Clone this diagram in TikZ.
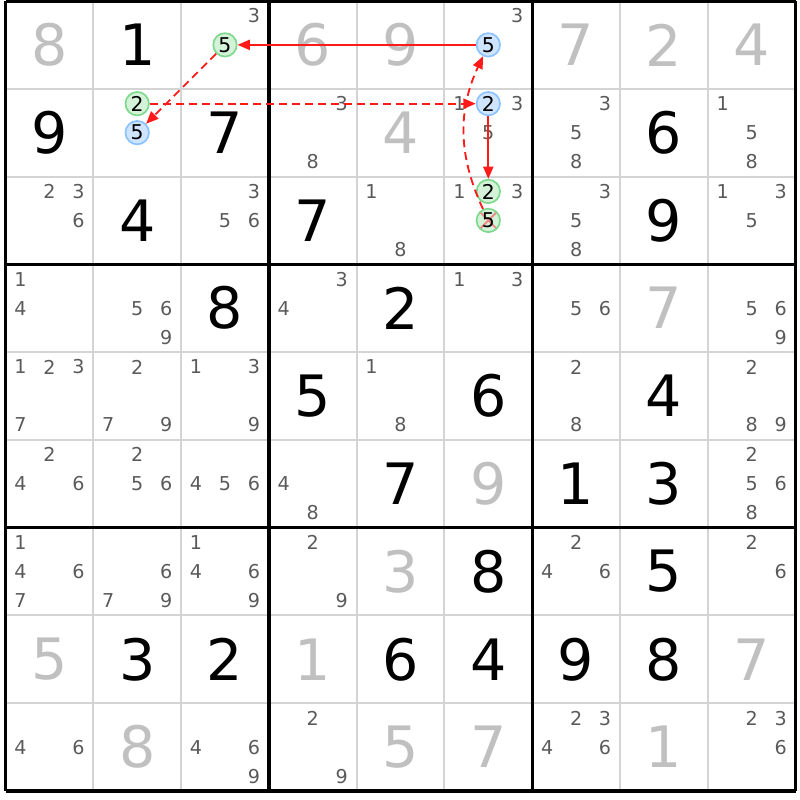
\documentclass[tikz,border=0pt]{standalone}
\usepackage{fontspec}
\setmainfont{DejaVu Sans}
\usepackage{tikz}
\usetikzlibrary{arrows.meta}

\definecolor{candgrey}{HTML}{5A5A5A}
\definecolor{solvedgrey}{HTML}{C0C0C0}
\definecolor{gridgrey}{HTML}{D4D4D4}
\definecolor{bluefill}{HTML}{CFE5FF}
\definecolor{blueedge}{HTML}{8CC3FF}
\definecolor{greenfill}{HTML}{D4F2D8}
\definecolor{greenedge}{HTML}{7ED98F}
\definecolor{strikered}{HTML}{F08A8A}
\definecolor{linkred}{HTML}{FF1A1A}

% position of candidate #3 in row #1, column #2
\newcommand{\candxy}[3]{%
  \pgfmathsetmacro\candx{#2-0.5+0.33*(mod(#3-1,3)-1)}%
  \pgfmathsetmacro\candy{-#1+0.5-0.33*(floor((#3-1)/3)-1)}%
}

\begin{document}
\begin{tikzpicture}[
  given/.style={font=\fontsize{18.5}{18.5}\selectfont, text=black, inner sep=0pt},
  solved/.style={given, text=solvedgrey},
  cand/.style={font=\fontsize{6.2}{6.2}\selectfont, text=candgrey, inner sep=0pt},
  hlblue/.style={cand, font=\fontsize{6.6}{6.6}\selectfont, text=black, circle,
    minimum size=7.6pt, line width=0.55pt, draw=blueedge, fill=bluefill},
  hlgreen/.style={hlblue, draw=greenedge, fill=greenfill},
  hlstruck/.style={hlgreen, path picture={
    \draw[strikered, line width=0.6pt]
      (path picture bounding box.north west) -- (path picture bounding box.south east)
      (path picture bounding box.north east) -- (path picture bounding box.south west);}},
  link/.style={linkred, line width=0.6pt, -{Triangle[length=4pt,width=3.3pt]}},
  weak/.style={link, dash pattern=on 2.6pt off 1.6pt}]
  \useasboundingbox (-0.063,0.011) rectangle (9.051,-9.103);

  % grid
  \foreach \i in {1,2,4,5,7,8} {
    \draw[gridgrey, line width=0.65pt] (\i,0) -- (\i,-9);
    \draw[gridgrey, line width=0.65pt] (0,-\i) -- (9,-\i);
  }
  \foreach \i in {0,3,6,9} {
    \draw[line width=1.1pt] (\i,0) -- (\i,-9);
    \draw[line width=1.1pt] (0,-\i) -- (9,-\i);
  }

  % givens
  \foreach \r/\c/\d in {1/2/1, 2/1/9, 2/3/7, 2/8/6, 3/2/4, 3/4/7, 3/8/9,
      4/3/8, 4/5/2, 5/4/5, 5/6/6, 5/8/4, 6/5/7, 6/7/1, 6/8/3, 7/6/8, 7/8/5,
      8/2/3, 8/3/2, 8/5/6, 8/6/4, 8/7/9, 8/8/8}
    \node[given] (v\r\c) at (\c-0.5,-\r+0.5) {\d};

  % solved cells
  \foreach \r/\c/\d in {1/1/8, 1/4/6, 1/5/9, 1/7/7, 1/8/2, 1/9/4, 2/5/4,
      4/8/7, 6/6/9, 7/5/3, 8/1/5, 8/4/1, 8/9/7, 9/2/8, 9/5/5, 9/6/7, 9/8/1}
    \node[solved] (v\r\c) at (\c-0.5,-\r+0.5) {\d};

  % candidates
  \foreach \r/\c/\ds in {1/3/{3}, 1/6/{3},
      2/4/{3,8}, 2/6/{1,3,5}, 2/7/{3,5,8}, 2/9/{1,5,8},
      3/1/{2,3,6}, 3/3/{3,5,6}, 3/5/{1,8}, 3/6/{1,3}, 3/7/{3,5,8}, 3/9/{1,3,5},
      4/1/{1,4}, 4/2/{5,6,9}, 4/4/{3,4}, 4/6/{1,3}, 4/7/{5,6}, 4/9/{5,6,9},
      5/1/{1,2,3,7}, 5/2/{2,7,9}, 5/3/{1,3,9}, 5/5/{1,8}, 5/7/{2,8}, 5/9/{2,8,9},
      6/1/{2,4,6}, 6/2/{2,5,6}, 6/3/{4,5,6}, 6/4/{4,8}, 6/9/{2,5,6,8},
      7/1/{1,4,6,7}, 7/2/{6,7,9}, 7/3/{1,4,6,9}, 7/4/{2,9}, 7/7/{2,4,6}, 7/9/{2,6},
      9/1/{4,6}, 9/3/{4,6,9}, 9/4/{2,9}, 9/7/{2,3,4,6}, 9/9/{2,3,6}}
    \foreach \d in \ds {
      \candxy{\r}{\c}{\d}
      \node[cand] (k\r\c\d) at (\candx,\candy) {\d};
    }

  % highlighted candidates
  \foreach \r/\c/\d/\s in {1/3/5/hlgreen, 1/6/5/hlblue, 2/2/2/hlgreen,
      2/2/5/hlblue, 2/6/2/hlblue, 3/6/2/hlgreen, 3/6/5/hlstruck} {
    \candxy{\r}{\c}{\d}
    \node[\s] (k\r\c\d) at (\candx,\candy) {\d};
  }

  % chain
  \draw[link] (k165) -- (k135);
  \draw[weak] (k135) -- (k225);
  \draw[weak] (k222) -- (k262);
  \draw[link] (k262) -- (k362);
  \draw[weak] (k365) to[bend left=25] (k165);
\end{tikzpicture}
\end{document}
